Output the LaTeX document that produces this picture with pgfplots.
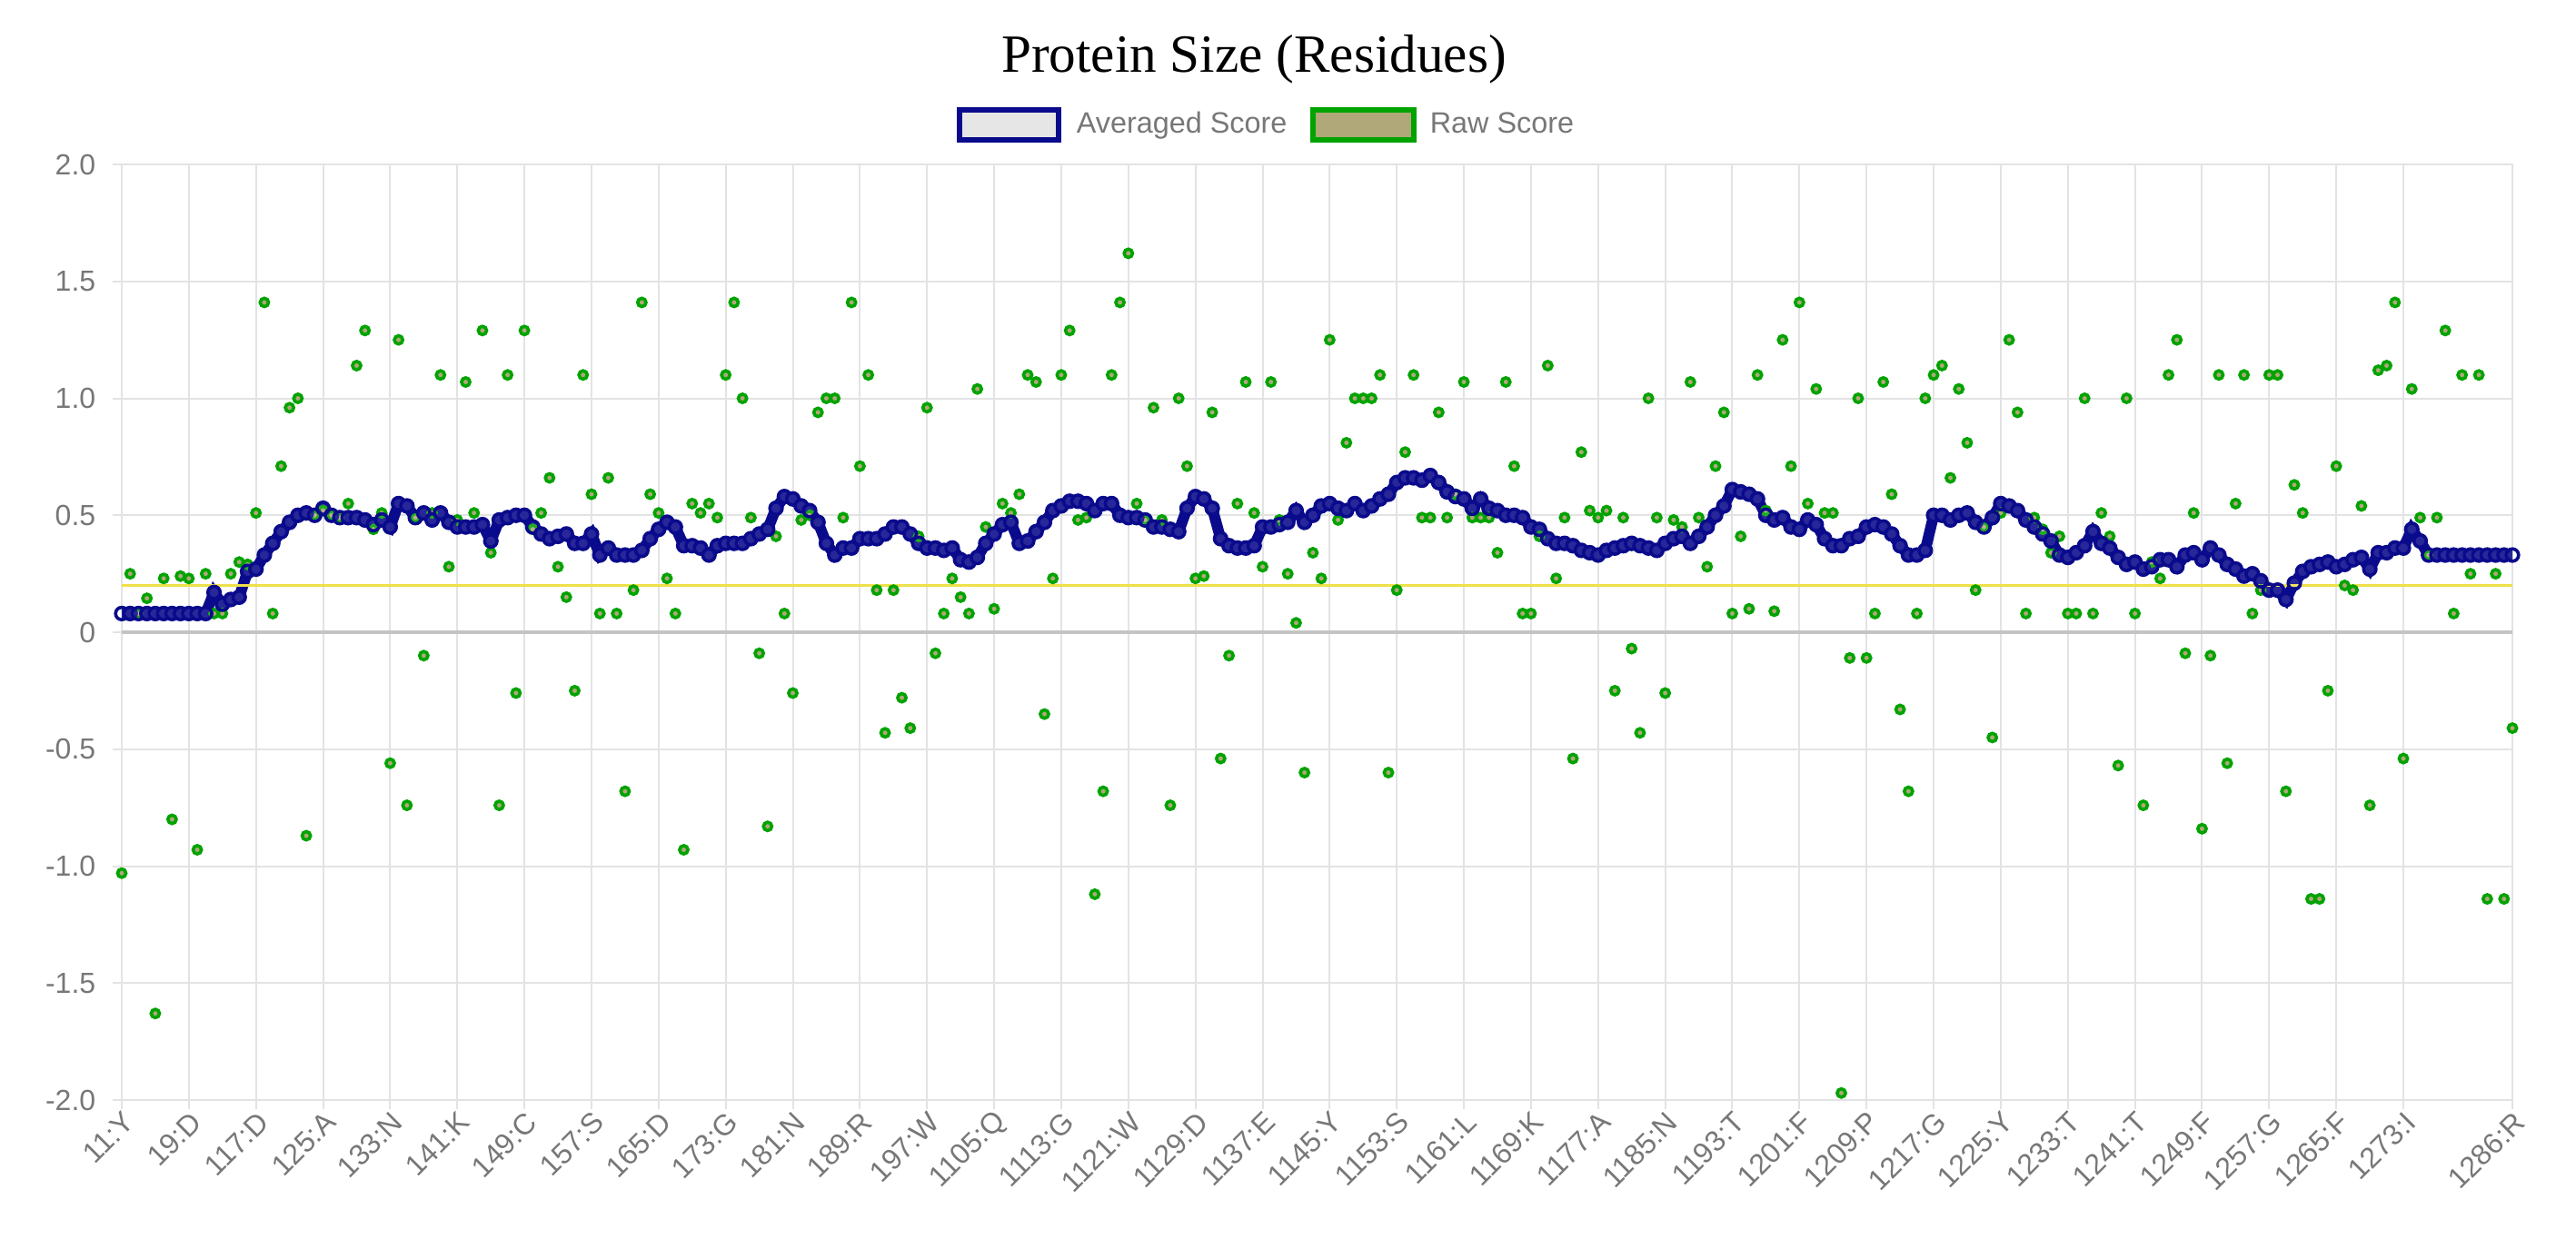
\documentclass[border=0pt]{standalone}
\usepackage{fontspec}
\setmainfont{Liberation Sans}
\newfontfamily\titlefont{Liberation Serif}
\usepackage{pgfplots}
\usepackage{pgfplotstable}
\pgfplotsset{compat=1.18}

\definecolor{tickgray}{HTML}{777777}
\definecolor{gridgray}{HTML}{E3E3E3}
\definecolor{zerogray}{HTML}{C4C4C4}
\definecolor{avgblue}{HTML}{0A0A8C}
\definecolor{avgfill}{HTML}{E6E6E6}
\definecolor{rawgreen}{HTML}{00A300}
\definecolor{rawfill}{HTML}{B0A878}
\definecolor{thresh}{HTML}{EEE04A}

% residue, averaged score, raw score
\pgfplotstableread{
r avg raw
1 0.08 -1.03
2 0.08 0.25
3 0.08 0.08
4 0.08 0.145
5 0.08 -1.63
6 0.08 0.23
7 0.08 -0.80
8 0.08 0.24
9 0.08 0.23
10 0.08 -0.93
11 0.08 0.25
12 0.17 0.08
13 0.12 0.08
14 0.14 0.25
15 0.15 0.30
16 0.26 0.29
17 0.27 0.51
18 0.33 1.41
19 0.38 0.08
20 0.43 0.71
21 0.47 0.96
22 0.50 1.00
23 0.51 -0.87
24 0.50 0.50
25 0.53 0.52
26 0.50 0.50
27 0.49 0.49
28 0.49 0.55
29 0.49 1.14
30 0.48 1.29
31 0.46 0.44
32 0.48 0.51
33 0.45 -0.56
34 0.55 1.25
35 0.54 -0.74
36 0.49 0.49
37 0.51 -0.10
38 0.48 0.51
39 0.51 1.10
40 0.47 0.28
41 0.45 0.48
42 0.45 1.07
43 0.45 0.51
44 0.46 1.29
45 0.39 0.34
46 0.48 -0.74
47 0.49 1.10
48 0.50 -0.26
49 0.50 1.29
50 0.45 0.44
51 0.42 0.51
52 0.40 0.66
53 0.41 0.28
54 0.42 0.15
55 0.38 -0.25
56 0.38 1.10
57 0.42 0.59
58 0.33 0.08
59 0.36 0.66
60 0.33 0.08
61 0.33 -0.68
62 0.33 0.18
63 0.35 1.41
64 0.40 0.59
65 0.44 0.51
66 0.47 0.23
67 0.45 0.08
68 0.37 -0.93
69 0.37 0.55
70 0.36 0.51
71 0.33 0.55
72 0.37 0.49
73 0.38 1.10
74 0.38 1.41
75 0.38 1.00
76 0.40 0.49
77 0.42 -0.09
78 0.44 -0.83
79 0.53 0.41
80 0.58 0.08
81 0.57 -0.26
82 0.54 0.48
83 0.52 0.50
84 0.47 0.94
85 0.38 1.00
86 0.33 1.00
87 0.36 0.49
88 0.36 1.41
89 0.40 0.71
90 0.40 1.10
91 0.40 0.18
92 0.42 -0.43
93 0.45 0.18
94 0.45 -0.28
95 0.42 -0.41
96 0.38 0.41
97 0.36 0.96
98 0.36 -0.09
99 0.35 0.08
100 0.36 0.23
101 0.31 0.15
102 0.30 0.08
103 0.32 1.04
104 0.38 0.45
105 0.42 0.10
106 0.46 0.55
107 0.47 0.51
108 0.38 0.59
109 0.39 1.10
110 0.43 1.07
111 0.47 -0.35
112 0.52 0.23
113 0.54 1.10
114 0.56 1.29
115 0.56 0.48
116 0.55 0.49
117 0.52 -1.12
118 0.55 -0.68
119 0.55 1.10
120 0.50 1.41
121 0.49 1.62
122 0.49 0.55
123 0.48 0.48
124 0.45 0.96
125 0.45 0.48
126 0.44 -0.74
127 0.43 1.00
128 0.53 0.71
129 0.58 0.23
130 0.57 0.24
131 0.53 0.94
132 0.40 -0.54
133 0.37 -0.10
134 0.36 0.55
135 0.36 1.07
136 0.37 0.51
137 0.45 0.28
138 0.45 1.07
139 0.46 0.48
140 0.47 0.25
141 0.52 0.04
142 0.47 -0.60
143 0.50 0.34
144 0.54 0.23
145 0.55 1.25
146 0.53 0.48
147 0.52 0.81
148 0.55 1.00
149 0.52 1.00
150 0.54 1.00
151 0.57 1.10
152 0.59 -0.60
153 0.64 0.18
154 0.66 0.77
155 0.66 1.10
156 0.65 0.49
157 0.67 0.49
158 0.64 0.94
159 0.60 0.49
160 0.58 0.59
161 0.57 1.07
162 0.53 0.49
163 0.57 0.49
164 0.53 0.49
165 0.52 0.34
166 0.50 1.07
167 0.50 0.71
168 0.49 0.08
169 0.45 0.08
170 0.44 0.41
171 0.40 1.14
172 0.38 0.23
173 0.38 0.49
174 0.37 -0.54
175 0.35 0.77
176 0.34 0.52
177 0.33 0.49
178 0.35 0.52
179 0.36 -0.25
180 0.37 0.49
181 0.38 -0.07
182 0.37 -0.43
183 0.36 1.00
184 0.35 0.49
185 0.38 -0.26
186 0.40 0.48
187 0.41 0.45
188 0.38 1.07
189 0.41 0.49
190 0.45 0.28
191 0.50 0.71
192 0.54 0.94
193 0.61 0.08
194 0.60 0.41
195 0.59 0.10
196 0.57 1.10
197 0.50 0.52
198 0.48 0.09
199 0.49 1.25
200 0.45 0.71
201 0.44 1.41
202 0.48 0.55
203 0.46 1.04
204 0.40 0.51
205 0.37 0.51
206 0.37 -1.97
207 0.40 -0.11
208 0.41 1.00
209 0.45 -0.11
210 0.46 0.08
211 0.45 1.07
212 0.42 0.59
213 0.37 -0.33
214 0.33 -0.68
215 0.33 0.08
216 0.35 1.00
217 0.50 1.10
218 0.50 1.14
219 0.48 0.66
220 0.50 1.04
221 0.51 0.81
222 0.47 0.18
223 0.45 0.45
224 0.49 -0.45
225 0.55 0.51
226 0.54 1.25
227 0.52 0.94
228 0.48 0.08
229 0.45 0.49
230 0.42 0.44
231 0.39 0.34
232 0.33 0.41
233 0.32 0.08
234 0.34 0.08
235 0.37 1.00
236 0.43 0.08
237 0.38 0.51
238 0.36 0.41
239 0.32 -0.57
240 0.29 1.00
241 0.30 0.08
242 0.27 -0.74
243 0.28 0.30
244 0.31 0.23
245 0.31 1.10
246 0.28 1.25
247 0.33 -0.09
248 0.34 0.51
249 0.31 -0.84
250 0.36 -0.10
251 0.33 1.10
252 0.29 -0.56
253 0.27 0.55
254 0.24 1.10
255 0.25 0.08
256 0.22 0.18
257 0.18 1.10
258 0.18 1.10
259 0.14 -0.68
260 0.21 0.63
261 0.26 0.51
262 0.28 -1.14
263 0.29 -1.14
264 0.30 -0.25
265 0.28 0.71
266 0.29 0.20
267 0.31 0.18
268 0.32 0.54
269 0.27 -0.74
270 0.34 1.12
271 0.34 1.14
272 0.36 1.41
273 0.36 -0.54
274 0.44 1.04
275 0.39 0.49
276 0.33 0.33
277 0.33 0.49
278 0.33 1.29
279 0.33 0.08
280 0.33 1.10
281 0.33 0.25
282 0.33 1.10
283 0.33 -1.14
284 0.33 0.25
285 0.33 -1.14
286 0.33 -0.41
}\datatable

\begin{document}
\begin{tikzpicture}
\begin{axis}[
  at={(0,0)}, anchor=south west,
  scale only axis,
  width=657.75pt, height=257.5pt,
  xmin=1, xmax=286, ymin=-2, ymax=2,
  clip=false,
  xtick={1,9,17,25,33,41,49,57,65,73,81,89,97,105,113,121,129,137,145,153,161,169,177,185,193,201,209,217,225,233,241,249,257,265,273,286},
  xticklabels={11:Y,19:D,117:D,125:A,133:N,141:K,149:C,157:S,165:D,173:G,181:N,189:R,197:W,1105:Q,1113:G,1121:W,1129:D,1137:E,1145:Y,1153:S,1161:L,1169:K,1177:A,1185:N,1193:T,1201:F,1209:P,1217:G,1225:Y,1233:T,1241:T,1249:F,1257:G,1265:F,1273:I,1286:R},
  ytick={-2,-1.5,-1,-0.5,0,0.5,1,1.5,2},
  yticklabels={-2.0,-1.5,-1.0,-0.5,0,0.5,1.0,1.5,2.0},
  grid=major,
  major grid style={draw=gridgray, line width=0.5pt},
  axis line style={draw=gridgray, line width=0.5pt},
  tick style={draw=gridgray, line width=0.5pt},
  major tick length=2.5pt, tick align=outside,
  xtick pos=bottom, ytick pos=left,
  ticklabel style={font=\fontsize{8}{9.6}\selectfont, text=tickgray},
  yticklabel style={anchor=east, inner sep=0pt, xshift=-4.5pt},
  xticklabel style={rotate=45, anchor=east, inner sep=0pt, yshift=-3pt},
]
\addplot[draw=zerogray, line width=1pt, forget plot] coordinates {(1,0) (286,0)};
\addplot[only marks, mark=*, mark size=1.15pt,
  mark options={draw=rawgreen, fill=rawfill, line width=0.9pt}]
  table[x=r, y=raw] {\datatable};
\addplot[avgblue, line width=3pt, mark=*, mark size=1.7pt,
  mark options={draw=avgblue, fill=white, fill opacity=0.12, line width=0.9pt}]
  table[x=r, y=avg] {\datatable};
\addplot[draw=thresh, line width=0.6pt, forget plot] coordinates {(1,0.2) (286,0.2)};
\end{axis}

% title
\node[anchor=base, inner sep=0pt, font=\titlefont\fontsize{14.8}{17}\selectfont]
  at (311.5pt,282.75pt) {Protein Size (Residues)};
% legend
\draw[avgblue, line width=1.6pt, fill=avgfill] (230.5pt,264.25pt) rectangle (257.75pt,272.5pt);
\node[anchor=base west, inner sep=0pt, text=tickgray, font=\fontsize{8.1}{9.7}\selectfont]
  at (262.5pt,266pt) {Averaged Score};
\draw[rawgreen, line width=1.4pt, fill=rawfill] (327.75pt,264.25pt) rectangle (355.5pt,272.5pt);
\node[anchor=base west, inner sep=0pt, text=tickgray, font=\fontsize{8.1}{9.7}\selectfont]
  at (359.75pt,266pt) {Raw Score};

\pgfresetboundingbox
\path[use as bounding box] (-33.5pt,-40.75pt) rectangle (675.25pt,302.75pt);
\end{tikzpicture}
\end{document}
